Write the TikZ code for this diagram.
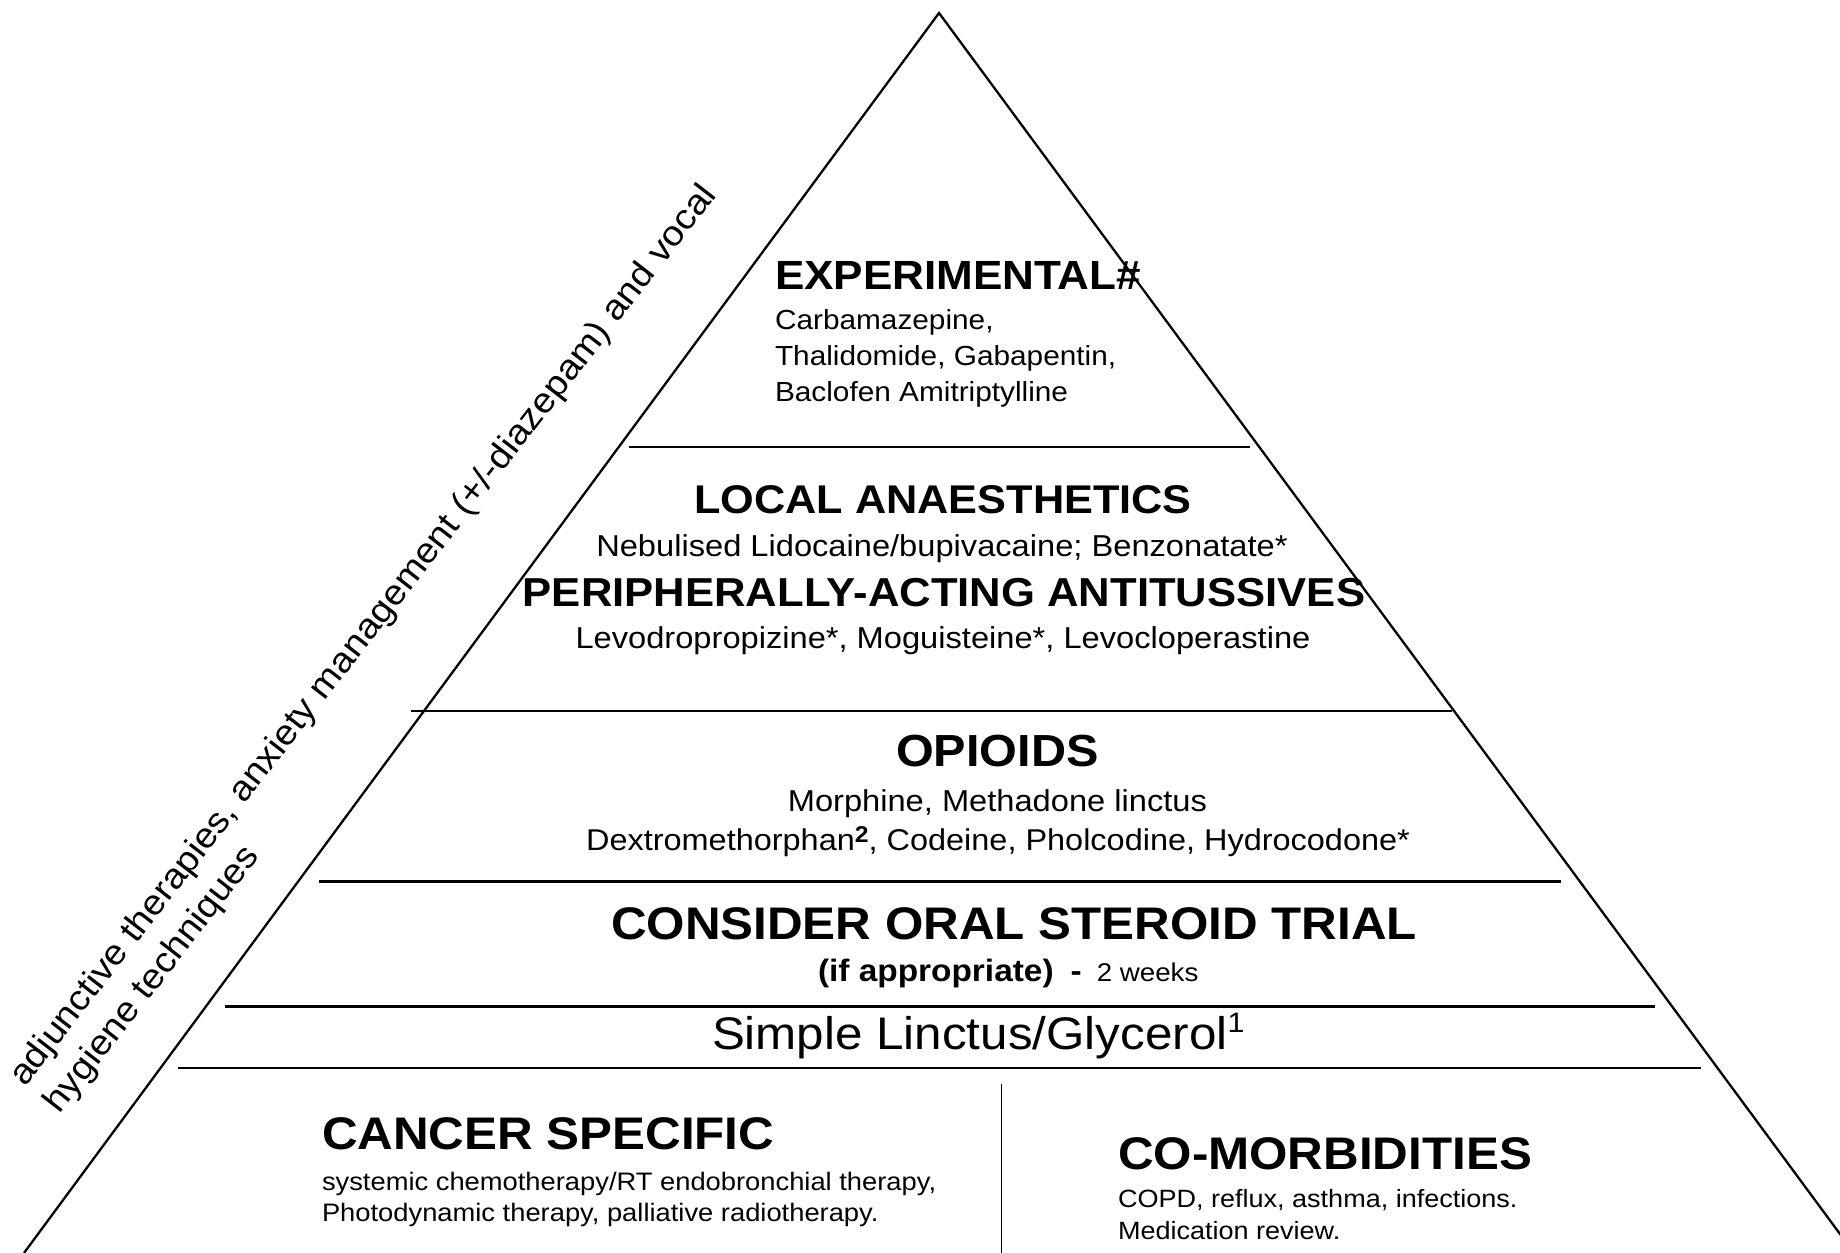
\documentclass[tikz,border=0pt]{standalone}
\usepackage{fontspec}
\setmainfont{Liberation Sans}[FakeStretch=1.08]
\newcommand{\fs}[1]{\fontsize{#1}{#1}\selectfont}
\begin{document}
\begin{tikzpicture}[x=0.1mm,y=-0.1mm,
  txt/.style={inner sep=0pt, outer sep=0pt},
  lw/.style={txt, anchor=base west},
  lc/.style={txt, anchor=base},
  edge/.style={line width=0.65pt, black},
  sepline/.style={line width=0.7pt, black},
  divline/.style={line width=0.5pt, black}]
\useasboundingbox (0,0) rectangle (1840,1253);
% triangle
\coordinate (apex) at (939,13);
\coordinate (bl) at (24,1253);
\coordinate (br) at (1854,1253);
\draw[edge] (bl) -- (apex) -- (br);
% separators
\coordinate (s1a) at (629,447);   \coordinate (s1b) at (1250,447);
\coordinate (s2a) at (411,711);   \coordinate (s2b) at (1452,711);
\coordinate (s3a) at (319,881.5); \coordinate (s3b) at (1561,881.5);
\coordinate (s4a) at (225,1006.5);\coordinate (s4b) at (1655,1006.5);
\coordinate (s5a) at (178,1068);  \coordinate (s5b) at (1701,1068);
\coordinate (dva) at (1001.5,1084); \coordinate (dvb) at (1001.5,1253);
\draw[sepline] (s1a) -- (s1b);
\draw[sepline] (s2a) -- (s2b);
\draw[sepline] (s3a) -- (s3b);
\draw[sepline] (s4a) -- (s4b);
\draw[sepline] (s5a) -- (s5b);
\draw[divline] (dva) -- (dvb);
% experimental
\node[lw, font=\fs{11.6}\bfseries] (exp) at (775,290) {EXPERIMENTAL\#};
\node[lw, font=\fs{7.85}] (exp1) at (775,330) {Carbamazepine,};
\node[lw, font=\fs{7.85}] (exp2) at (775,366) {Thalidomide, Gabapentin,};
\node[lw, font=\fs{7.85}] (exp3) at (775,402) {Baclofen Amitriptylline};
% local anaesthetics / peripheral
\node[lc, font=\fs{11.4}\bfseries] (loc) at (943,514) {LOCAL ANAESTHETICS};
\node[lc, font=\fs{8.6}] (loc1) at (942,556.7) {Nebulised Lidocaine/bupivacaine; Benzonatate*};
\node[lc, font=\fs{11.5}\bfseries] (per) at (944,606.7) {PERIPHERALLY-ACTING ANTITUSSIVES};
\node[lc, font=\fs{8.6}] (per1) at (943,648.3) {Levodropropizine*, Moguisteine*, Levocloperastine};
% opioids
\node[lc, font=\fs{12.8}\bfseries] (opi) at (997.4,766.7) {OPIOIDS};
\node[lc, font=\fs{8.6}] (opi1) at (997.4,811.7) {Morphine, Methadone linctus};
\node[lc, font=\fs{8.55}] (opi2) at (998,850.7) {Dextromethorphan{\fs{6.5}\raisebox{0.35em}{\textbf{2}}}, Codeine, Pholcodine, Hydrocodone*};
% steroid
\node[lc, font=\fs{13}\bfseries] (ster) at (1014,940) {CONSIDER ORAL STEROID TRIAL};
\node[lw] (ster1) at (818,981.7) {\fs{8.8}\bfseries (if appropriate)\hspace{1.7mm}-\hspace{1.5mm}\mdseries\fs{7.3}2 weeks};
% simple linctus
\node[lw, font=\fs{13}] (simp) at (712,1050) {Simple Linctus/Glycerol{\fs{8}\raisebox{0.62em}{1}}};
% cancer specific
\node[lw, font=\fs{13}\bfseries] (canc) at (322,1150) {CANCER SPECIFIC};
\node[lw, font=\fs{7.2}] (canc1) at (322,1190.7) {systemic chemotherapy/RT endobronchial therapy,};
\node[lw, font=\fs{7.2}] (canc2) at (322,1221.7) {Photodynamic therapy, palliative radiotherapy.};
% co-morbidities
\node[lw, font=\fs{13}\bfseries] (com) at (1118,1169.3) {CO-MORBIDITIES};
\node[lw, font=\fs{7.12}] (com1) at (1118,1207.7) {COPD, reflux, asthma, infections.};
\node[lw, font=\fs{7.12}] (com2) at (1118,1240) {Medication review.};
% rotated side text
\node[lw, rotate=52.2, font=\fs{10}] (adj1) at (25,1088) {adjunctive therapies, anxiety management (+/-diazepam) and vocal};
\node[lw, rotate=52.2, font=\fs{10}] (adj2) at (60,1115) {hygiene techniques};
\end{tikzpicture}
\end{document}
